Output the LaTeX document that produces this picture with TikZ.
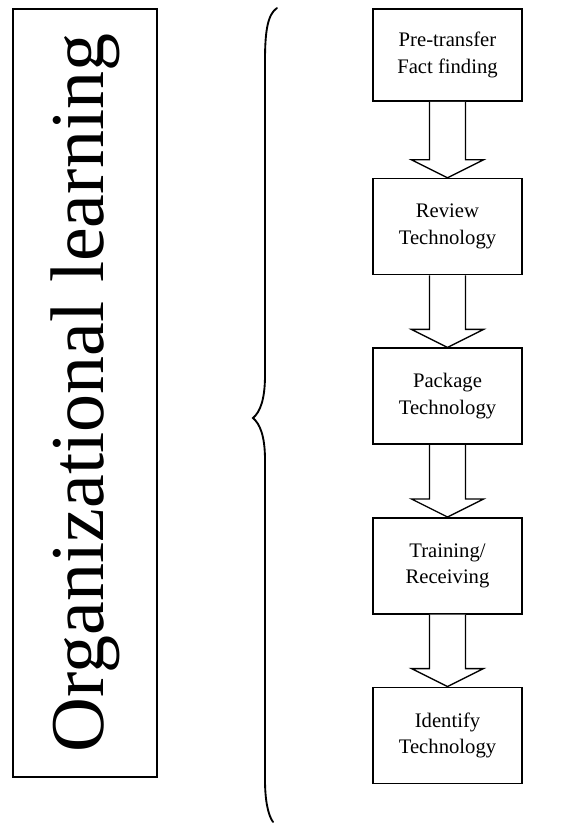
\documentclass[tikz,border=0pt]{standalone}
\usepackage{fontspec}
\setmainfont{Liberation Serif}
\usetikzlibrary{positioning, calc}
\tikzset{
	stagebox/.style={rectangle, draw=black, line width=1.2pt, minimum width=112pt, minimum height=72pt, align=center, inner sep=2pt, font=\fontsize{15.5}{20}\selectfont},
	learnbox/.style={rectangle, draw=black, line width=1.2pt, rotate=90, minimum width=576pt, minimum height=108pt, inner sep=0pt, font=\fontsize{57}{60}\selectfont},
	hollowarrow/.style={draw=black, line width=1pt, fill=white, line join=miter},
	bracket/.style={line width=1.4pt, line cap=round},
}

\begin{document}
\begin{tikzpicture}[x=0.75pt, y=-0.75pt, node distance=54pt]
	\useasboundingbox (0,0) rectangle (579,824);
	% left box with the vertical title
	\node[learnbox] (learn) at (85,393) {Organizational learning};
	% the curly brace
	\draw[bracket] (277,8) .. controls (268,14) and (265,30) .. (265,60) -- (265,375)
		.. controls (265,400) and (260,412) .. (253,418)
		.. controls (260,424) and (265,436) .. (265,460) -- (265,780)
		.. controls (265,800) and (268,815) .. (273,822);
	% the stages
	\node[stagebox, minimum height=69pt] (pre) at (447.5,55) {Pre-transfer\\Fact finding};
	\node[stagebox, below=57pt of pre] (review) {Review\\Technology};
	\node[stagebox, below=of review] (package) {Package\\Technology};
	\node[stagebox, below=of package] (train) {Training/\\Receiving};
	\node[stagebox, below=of train] (ident) {Identify\\Technology};
	\foreach \a/\b in {pre/review, review/package, package/train, train/ident}
		\draw[hollowarrow] ($(\a.south)+(-18,0)$) -- ($(\b.north)+(-18,-18)$) -- ($(\b.north)+(-36,-18)$)
			-- (\b.north) -- ($(\b.north)+(36,-18)$) -- ($(\b.north)+(18,-18)$) -- ($(\a.south)+(18,0)$);
\end{tikzpicture}
\end{document}
